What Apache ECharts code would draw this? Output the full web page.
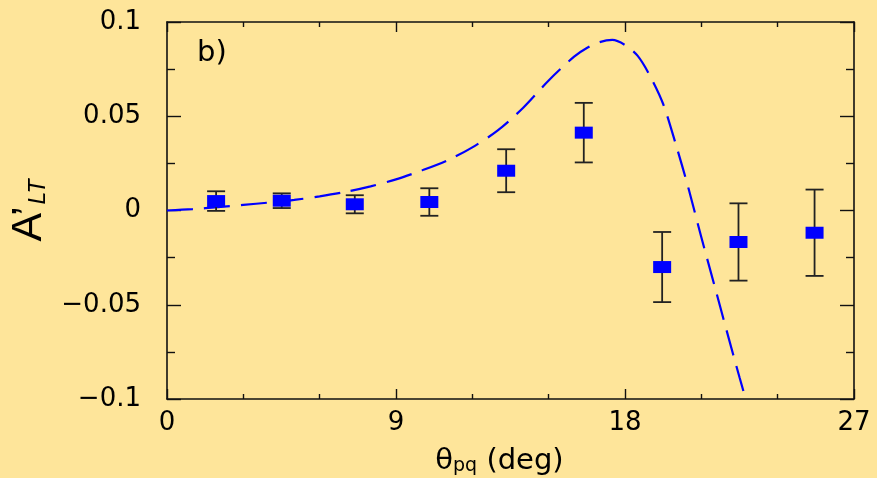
<!DOCTYPE html>
<html>
<head>
    <meta charset="utf-8">
    <title>A'LT vs theta_pq</title>
    <script src="https://cdn.jsdelivr.net/npm/echarts@6/dist/echarts.min.js"></script>
</head>
<body style="margin:0;background:#fee59a;">
    <div id="main" style="width:877px;height:478px;"></div>
    <script type="text/javascript">
        var myChart = echarts.init(document.getElementById('main'));

        // measured points (theta_pq, A'LT, error)
        var dataX = [1.93, 4.51, 7.38, 10.31, 13.33, 16.38, 19.46, 22.46, 25.45];
        var dataY = [0.005, 0.0052, 0.0033, 0.0045, 0.0211, 0.0413, -0.030, -0.0167, -0.0118];
        var dataErr = [0.0052, 0.0039, 0.0048, 0.0073, 0.0114, 0.0158, 0.0186, 0.0205, 0.0229];

        // dashed calculation curve
        var curveX = [0, 1, 2, 3, 4, 5, 6, 7, 8, 9, 10, 11, 12, 13, 14, 15, 16, 16.5, 17, 17.5, 18, 18.5, 19, 19.5, 20, 20.5, 21, 21.5, 22, 22.5, 23];
        var curveY = [0, 0.0007, 0.0018, 0.003, 0.0042, 0.0056, 0.0075, 0.0098, 0.0128, 0.0165, 0.0212, 0.0265, 0.0335, 0.0425, 0.0545, 0.069, 0.0816, 0.0862, 0.0893, 0.0905, 0.0878, 0.082, 0.071, 0.0565, 0.035, 0.0115, -0.0142, -0.039, -0.064, -0.0885, -0.112];

        var xTicks = [0, 9, 18, 27];
        var yTicks = [-0.1, -0.05, 0, 0.05, 0.1];

        var points = [], bars = [], curve = [];
        for (var i = 0; i < dataX.length; i++) {
            points.push([dataX[i], dataY[i]]);
            bars.push([dataX[i], dataY[i] - dataErr[i], dataY[i] + dataErr[i]]);
        }
        for (var j = 0; j < curveX.length; j++) {
            curve.push([curveX[j], curveY[j]]);
        }

        var font = 'DejaVu Sans';
        var axisColor = '#111';

        function yLabel(v) {
            return String(+v.toFixed(2)).replace('-', '\u2212');
        }

        function xAxisCfg(pos, showLabel) {
            return {
                type: 'value', position: pos,
                min: xTicks[0], max: xTicks[xTicks.length - 1], interval: 9,
                axisLine: { show: true, onZero: false, lineStyle: { color: axisColor, width: 1.6 } },
                axisTick: { inside: true, length: 10, lineStyle: { color: axisColor, width: 1.4 } },
                minorTick: { show: true, splitNumber: 3, length: 5, lineStyle: { color: axisColor, width: 1.4 } },
                splitLine: { show: false },
                axisLabel: { show: showLabel, fontFamily: font, fontSize: 26, color: '#000', margin: 11 }
            };
        }

        function yAxisCfg(pos, showLabel) {
            return {
                type: 'value', position: pos,
                min: yTicks[0], max: yTicks[yTicks.length - 1], interval: 0.05,
                axisLine: { show: true, onZero: false, lineStyle: { color: axisColor, width: 1.6 } },
                axisTick: { inside: true, length: 14, lineStyle: { color: axisColor, width: 1.4 } },
                minorTick: { show: true, splitNumber: 2, length: 8, lineStyle: { color: axisColor, width: 1.4 } },
                splitLine: { show: false },
                axisLabel: { show: showLabel, fontFamily: font, fontSize: 26, color: '#000', margin: 26, formatter: yLabel }
            };
        }

        var xBottom = xAxisCfg('bottom', true);
        xBottom.name = '{t|\u03b8}{s|pq}{t| (deg)}';
        xBottom.nameLocation = 'middle';
        xBottom.nameGap = 48;
        xBottom.nameTextStyle = {
            fontFamily: font,
            fontSize: 29,
            color: '#000',
            padding: [0, 22, 0, 0],
            rich: {
                t: { fontFamily: font, fontSize: 29, color: '#000' },
                s: { fontFamily: font, fontSize: 19, color: '#000', verticalAlign: 'bottom', padding: [10, 0, 0, 0] }
            }
        };

        var yLeft = yAxisCfg('left', true);
        yLeft.name = '{a|A\u2019}{s|LT}';
        yLeft.nameLocation = 'middle';
        yLeft.nameGap = 108;
        yLeft.nameTextStyle = {
            rich: {
                a: { fontFamily: 'Liberation Sans', fontSize: 43, color: '#000' },
                s: { fontFamily: 'Liberation Sans', fontSize: 23, fontStyle: 'italic', color: '#000', verticalAlign: 'bottom', padding: [8, 0, 0, 2] }
            }
        };

        var option = {
            backgroundColor: '#fee59a',
            animation: false,
            title: {
                text: 'b)', left: 192, top: 34,
                textStyle: { fontFamily: font, fontSize: 29, fontWeight: 'normal', color: '#000' }
            },
            grid: { left: 167, right: 23, top: 22, bottom: 79, outerBoundsMode: 'none' },
            xAxis: [xBottom, xAxisCfg('top', false)],
            yAxis: [yLeft, yAxisCfg('right', false)],
            series: [
                {
                    type: 'line',
                    data: curve,
                    smooth: 0.3,
                    showSymbol: false,
                    clip: true,
                    z: 2,
                    lineStyle: { color: '#0000ff', width: 2.2, type: [26, 11] }
                },
                {
                    type: 'custom',
                    data: bars,
                    z: 3,
                    renderItem: function (params, api) {
                        var x = api.value(0);
                        var top = api.coord([x, api.value(2)]);
                        var bot = api.coord([x, api.value(1)]);
                        var hw = 9;
                        var st = { stroke: '#222', lineWidth: 1.8 };
                        return {
                            type: 'group',
                            children: [
                                { type: 'line', shape: { x1: top[0], y1: top[1], x2: bot[0], y2: bot[1] }, style: st },
                                { type: 'line', shape: { x1: top[0] - hw, y1: top[1], x2: top[0] + hw, y2: top[1] }, style: st },
                                { type: 'line', shape: { x1: bot[0] - hw, y1: bot[1], x2: bot[0] + hw, y2: bot[1] }, style: st }
                            ]
                        };
                    }
                },
                {
                    type: 'scatter',
                    data: points,
                    symbol: 'rect',
                    symbolSize: [18, 12],
                    z: 4,
                    itemStyle: { color: '#0000ff', opacity: 1 }
                }
            ]
        };

        myChart.setOption(option);
    </script>
</body>
</html>
